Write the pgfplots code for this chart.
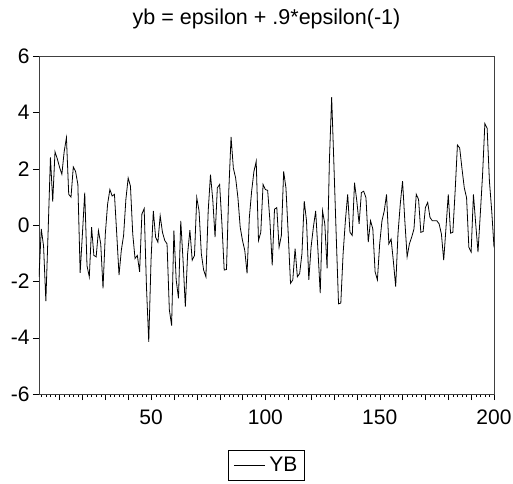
\documentclass[border=0pt]{standalone}
\usepackage{fontspec}
\setmainfont{Liberation Sans}
\usepackage{pgfplots}
\pgfplotsset{compat=1.18}
\usepackage{pgfplotstable}

\pgfplotstableread{
t y
1 -1.84
2 -0.14
3 -0.75
4 -2.70
5 -0.20
6 2.40
7 0.83
8 2.60
9 2.35
10 2.05
11 1.80
12 2.60
13 3.10
14 1.09
15 0.99
16 2.06
17 1.90
18 1.44
19 -1.70
20 -0.30
21 1.15
22 -1.45
23 -1.84
24 -0.08
25 -1.08
26 -1.13
27 -0.20
28 -0.67
29 -2.25
30 -0.32
31 0.74
32 1.26
33 1.03
34 1.09
35 -0.32
36 -1.78
37 -0.90
38 -0.37
39 0.91
40 1.67
41 1.38
42 -0.32
43 -1.19
44 -1.08
45 -1.66
46 0.39
47 0.58
48 -2.19
49 -4.15
50 -1.25
51 0.50
52 -0.43
53 -0.61
54 0.33
55 -0.26
56 -0.55
57 -0.67
58 -3.00
59 -3.57
60 -0.20
61 -1.95
62 -2.60
63 0.15
64 -1.25
65 -2.90
66 -1.02
67 -0.18
68 -1.25
69 -1.08
70 0.97
71 0.50
72 -1.02
73 -1.60
74 -1.84
75 0.50
76 1.79
77 0.90
78 -0.43
79 1.32
80 1.44
81 0.04
82 -1.60
83 -1.58
84 1.20
85 3.13
86 2.02
87 1.67
88 0.97
89 -0.08
90 -0.55
91 -0.90
92 -1.72
93 0.27
94 1.20
95 1.90
96 2.26
97 -0.55
98 -0.26
99 1.44
100 1.26
101 1.23
102 0.15
103 -1.43
104 0.56
105 0.62
106 -0.79
107 -0.37
108 1.90
109 1.32
110 -0.32
111 -2.07
112 -1.95
113 -0.84
114 -1.84
115 -1.72
116 -1.02
117 0.85
118 0.15
119 -1.95
120 -0.78
121 -0.08
122 0.50
123 -0.90
124 -2.42
125 0.50
126 0.04
127 -1.54
128 2.26
129 4.54
130 2.10
131 -0.40
132 -2.80
133 -2.77
134 -1.02
135 0.15
136 1.09
137 -0.26
138 -0.37
139 1.50
140 0.85
141 0.04
142 1.15
143 1.20
144 0.97
145 -0.61
146 0.15
147 -0.14
148 -1.66
149 -1.95
150 -0.67
151 0.15
152 0.50
153 1.09
154 -0.67
155 -0.50
156 -1.30
157 -2.19
158 -0.32
159 0.74
160 1.56
161 0.15
162 -1.13
163 -0.67
164 -0.43
165 -0.14
166 1.09
167 0.91
168 -0.26
169 -0.23
170 0.62
171 0.80
172 0.27
173 0.15
174 0.15
175 0.15
176 0.04
177 -0.32
178 -1.25
179 -0.10
180 1.09
181 -0.29
182 -0.26
183 1.20
184 2.84
185 2.73
186 2.00
187 1.32
188 0.97
189 -0.79
190 -0.96
191 1.09
192 0.04
193 -0.96
194 0.38
195 1.79
196 3.60
197 3.43
198 1.55
199 0.50
200 -0.79
}\ybdata

\begin{document}
\begin{tikzpicture}
\useasboundingbox (-39pt,-89pt) rectangle (474pt,394pt);
\begin{axis}[
    scale only axis,
    width=455pt, height=338pt,
    xmin=1, xmax=200,
    ymin=-6, ymax=6,
    ytick={-6,-4,...,6},
    xtick={10,20,...,200},
    xticklabels={,,,,50,,,,,100,,,,,150,,,,,200},
    minor xtick={2,4,...,200},
    tick align=outside,
    xtick pos=lower, ytick pos=left,
    major tick length=6pt, minor tick length=3pt,
    axis line style={draw=black!75},
    tick style={black},
    font=\fontsize{21}{24}\selectfont,
    xticklabel style={yshift=-6pt},
    /pgf/number format/assume math mode=true,
    title={yb = epsilon + .9*epsilon(-1)},
    title style={at={(0.5,1)}, anchor=base, yshift=26pt, font=\fontsize{21.5}{24}\selectfont},
    legend style={at={(0.5,0)}, anchor=north, yshift=-56pt,
        draw=black, inner xsep=5pt, inner ysep=5pt, font=\fontsize{21}{24}\selectfont},
    legend image code/.code={\draw[#1] (0pt,0pt) -- (31pt,0pt);},
]
\addplot[black, line width=0.8pt] table[x=t, y=y] {\ybdata};
\addlegendentry{\hspace{2pt}YB}
\end{axis}
\end{tikzpicture}
\end{document}
